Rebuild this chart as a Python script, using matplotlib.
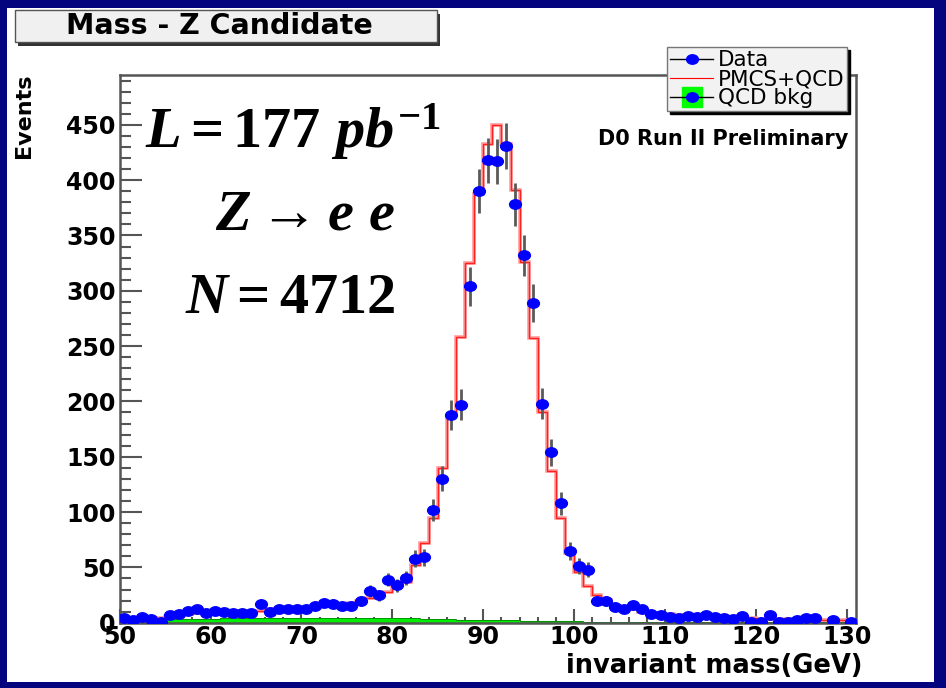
import numpy as np
import matplotlib
matplotlib.use("Agg")
import matplotlib.pyplot as plt
from matplotlib.lines import Line2D
from matplotlib.patches import Rectangle
from matplotlib.markers import MarkerStyle
from matplotlib.transforms import Affine2D
from matplotlib.ticker import MultipleLocator

# 1 GeV bins, 50 - 131 GeV
edges = np.arange(50, 132, 1)
centers = edges[:-1] + 0.5

data_counts = [4, 2, 5, 3, 1, 7, 8, 11, 12, 9,
               11, 10, 9, 9, 9, 17, 10, 12, 12, 12,
               12, 15, 18, 17, 15, 15, 20, 29, 25, 39,
               34, 40, 58, 59, 102, 130, 188, 197, 304, 390,
               418, 417, 431, 378, 332, 289, 198, 154, 108, 65,
               51, 48, 20, 20, 14, 12, 16, 12, 8, 7,
               5, 4, 6, 5, 7, 5, 4, 3, 6, 1,
               1, 7, 1, 1, 2, 4, 4, 0, 2, 0,
               1]

pmcs_qcd = [1, 2, 2.5, 3, 4, 5, 6, 7.5, 8.5, 9,
            9.5, 10, 10, 10.5, 11, 11, 12, 12.5, 13, 13,
            13.5, 14, 15, 16, 17, 18, 19.5, 22, 25, 28,
            32, 37, 52, 72, 95, 140, 188, 258, 325, 387,
            433, 450, 433, 391, 326, 257, 190, 137, 95, 63,
            46, 33, 25, 20.5, 15, 13.5, 12, 10, 8.5, 8,
            7.5, 7, 6.5, 6, 5.5, 5, 5, 4.5, 4, 4,
            3.5, 3.5, 3, 3, 3, 2.5, 2.5, 2, 2, 2,
            1.5]

qcd_bkg = [0.5, 1, 1.5, 2, 2.5, 3, 3.2, 3.4, 3.5, 3.6,
           3.7, 3.8, 3.8, 3.9, 4, 4, 4, 4, 4, 4,
           4, 4, 4, 4, 4, 4, 4, 4, 4, 4,
           4, 4, 3.8, 3.6, 3.4, 3.2, 3, 2.8, 2.6, 2.5,
           2.4, 2.2, 2, 2, 1.8, 1.6, 1.5, 1.4, 1.3, 1.2,
           1.1, 1, 1, 0.9, 0.9, 0.8, 0.8, 0.7, 0.7, 0.7,
           0.6, 0.6, 0.6, 0.5, 0.5, 0.5, 0.5, 0.4, 0.4, 0.4,
           0.4, 0.4, 0.3, 0.3, 0.3, 0.3, 0.3, 0.3, 0.3, 0.3,
           0.3]

W, H = 946, 688


def fx(x):
    return x / W


def fy(y):
    return 1 - y / H


plt.rcParams['font.family'] = ['DejaVu Sans']
plt.rcParams['mathtext.fontset'] = 'custom'
plt.rcParams['mathtext.rm'] = 'Liberation Serif:bold'
plt.rcParams['mathtext.bf'] = 'Liberation Serif:bold'
plt.rcParams['mathtext.it'] = 'Liberation Serif:italic:bold'

fig = plt.figure(figsize=(W / 100, H / 100), dpi=100, facecolor='#04047e')

# white slide area
fig.patches.append(Rectangle((fx(7), fy(682)), (934 - 7) / W, (682 - 8) / H,
                             transform=fig.transFigure, facecolor='white',
                             edgecolor='none', zorder=-5))

# title box with shadow
fig.patches.append(Rectangle((fx(18), fy(46)), (437 - 15) / W, (42 - 10) / H,
                             transform=fig.transFigure, facecolor='#333333',
                             edgecolor='none', zorder=1))
fig.patches.append(Rectangle((fx(15), fy(42)), (437 - 15) / W, (42 - 10) / H,
                             transform=fig.transFigure, facecolor='#f0f0f0',
                             edgecolor='#555555', lw=1, zorder=2))
fig.text(fx(219), fy(26), 'Mass - Z Candidate', ha='center', va='center',
         fontsize=20.5, fontweight='bold', zorder=3)

ax = fig.add_axes([fx(119.6), fy(622.7), (856 - 119.6) / W, (622.7 - 75) / H])
ax.set_zorder(1)

counts = np.array(data_counts, dtype=float)
model = np.array(pmcs_qcd)
bkg = np.array(qcd_bkg)

ax.stairs(bkg, edges, fill=True, facecolor='#00ee00', edgecolor='none', zorder=2)
ax.stairs(bkg, edges, color='#008800', lw=0.6, zorder=2)
ax.stairs(model, edges, color='#ff9a9a', lw=2.6, zorder=3)
ax.stairs(model, edges, color='#ff2020', lw=1.0, zorder=3)

mk = MarkerStyle('o', transform=Affine2D().scale(1.25, 1.0))
shown = counts > 0
err = np.sqrt(counts)
ax.vlines(centers[shown], (counts - err)[shown], (counts + err)[shown],
          colors='#5a5a5a', lw=2, zorder=4)
ax.plot(centers[shown], counts[shown], ls='none', marker=mk, markersize=6.8,
        color='#0000ff', zorder=5)

ax.set_xlim(50, 131)
ax.set_ylim(0, 495)
ax.xaxis.set_major_locator(MultipleLocator(10))
ax.xaxis.set_minor_locator(MultipleLocator(2))
ax.yaxis.set_major_locator(MultipleLocator(50))
ax.yaxis.set_minor_locator(MultipleLocator(10))
ax.tick_params(which='both', direction='in', color='#555555', width=1.5,
               labelsize=17, top=False, right=False)
ax.tick_params(axis='y', which='major', length=16, pad=3)
ax.tick_params(axis='y', which='minor', length=8)
ax.tick_params(axis='x', which='major', length=10, pad=2)
ax.tick_params(axis='x', which='minor', length=4)
for lab in ax.get_xticklabels() + ax.get_yticklabels():
    lab.set_fontweight('bold')
for sp in ax.spines.values():
    sp.set_color('#555555')
    sp.set_linewidth(1.8)

fig.text(fx(24), fy(73), 'Events', rotation=90, ha='center', va='top',
         fontsize=16, fontweight='bold')
fig.text(fx(862), fy(666), 'invariant mass(GeV)', ha='right', va='center',
         fontsize=18.5, fontweight='bold')

ax.text(fx(848), fy(145), 'D0 Run II Preliminary', ha='right', va='baseline',
        transform=fig.transFigure, fontsize=15, fontweight='bold', zorder=6)

# big annotations (drawn above the axes)
for s, x, y in [(r'$L = 177\ pb^{-1}$', 145, 148),
                (r'$Z \rightarrow e\ e$', 215, 230),
                (r'$N = 4712$', 185, 313)]:
    ax.text(fx(x), fy(y), s, transform=fig.transFigure, fontsize=42,
            va='baseline', zorder=6)

h_data = Line2D([], [], color='black', lw=1, marker=mk, markersize=6.8,
                markerfacecolor='#0000ff', markeredgecolor='#0000ff')
h_model = Line2D([], [], color='red', lw=0.8)
h_box = Line2D([], [], ls='none', marker='s', markersize=14,
               markerfacecolor='#00ff00', markeredgecolor='#00ff00')
leg = ax.legend([h_data, h_model, (h_box, h_data)],
                ['Data', 'PMCS+QCD', 'QCD bkg'],
                loc='upper left', bbox_to_anchor=(fx(667), fy(47)),
                bbox_transform=fig.transFigure,
                prop={'size': 15.5, 'weight': 'normal'},
                handlelength=2.0, handletextpad=0.2, labelspacing=-0.05,
                borderpad=0.15, borderaxespad=0, fancybox=False,
                facecolor='#f2f2f2', edgecolor='#777777', framealpha=1,
                shadow={'color': 'black', 'alpha': 1})
leg.set_zorder(10)

fig.savefig('out.png', dpi=100, facecolor=fig.get_facecolor())
